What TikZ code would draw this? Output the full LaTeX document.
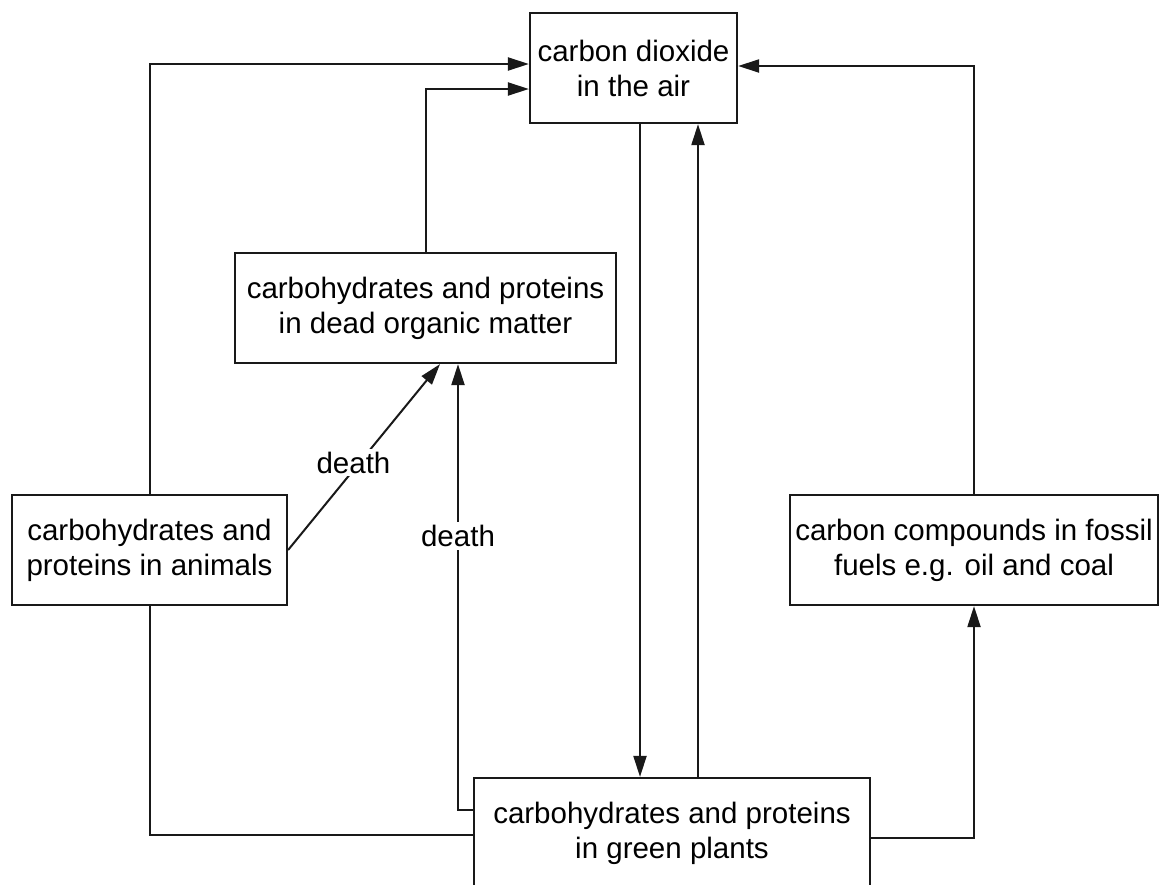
\documentclass[tikz,border=0pt]{standalone}
\usepackage{fontspec}
\setmainfont{Liberation Sans}
\usetikzlibrary{arrows.meta,calc}
\begin{document}
\begin{tikzpicture}[x=1pt,y=-1pt,
  box/.style={draw=black!90,line width=2.2pt,align=center,inner sep=0pt,minimum height=110pt,
    font=\fontsize{29.5}{35}\selectfont},
  conn/.style={draw=black!90,line width=2pt},
  arr/.style={conn,-{Triangle[length=21pt,width=13pt]}},
  lbl/.style={fill=white,inner sep=3pt,font=\fontsize{29.5}{35}\selectfont}]
\useasboundingbox (0,0) rectangle (1159,884);
\node[box,minimum width=207pt] (co2) at (633.5,68) {carbon dioxide\\in the air};
\node[box,minimum width=381pt] (dead) at (425.5,308) {carbohydrates and proteins\\in dead organic matter};
\node[box,minimum width=275pt] (anim) at (149.5,550) {carbohydrates and\\proteins in animals};
\node[box,minimum width=368pt] (foss) at (974,550) {carbon compounds in fossil\\fuels e.g. oil and coal};
\node[box,minimum width=396pt] (plant) at (672,833) {carbohydrates and proteins\\in green plants};
% to CO2
\draw[arr] (anim.north) |- ($(co2.west)+(0,-4)$);
\draw[arr] (dead.north) |- ($(co2.west)+(0,21)$);
\draw[arr] (foss.north) |- ($(co2.east)+(0,-2)$);
% CO2 <-> plants
\coordinate (d1) at ($(co2.south)+(6.5,0)$);
\coordinate (u1) at ($(co2.south)+(64.5,0)$);
\draw[arr] (d1) -- (d1 |- plant.north);
\draw[arr] (u1 |- plant.north) -- (u1);
% plants -> fossil
\draw[arr] ($(plant.east)+(0,5)$) -| (foss.south);
% animals -- plants
\draw[conn] (anim.south) |- ($(plant.west)+(0,2)$);
% plants -> dead
\coordinate (dd) at ($(dead.south)+(32.5,0)$);
\draw[arr] ($(plant.west)+(0,-23)$) -| (dd);
\node[lbl] (l1) at ($(dd)+(0,172)$) {death};
% animals -> dead
\draw[arr] (anim.east) -- ($(dead.south)+(14.5,0)$) node[lbl,pos=0.47,xshift=-6pt] (l2) {death};
\end{tikzpicture}
\end{document}
